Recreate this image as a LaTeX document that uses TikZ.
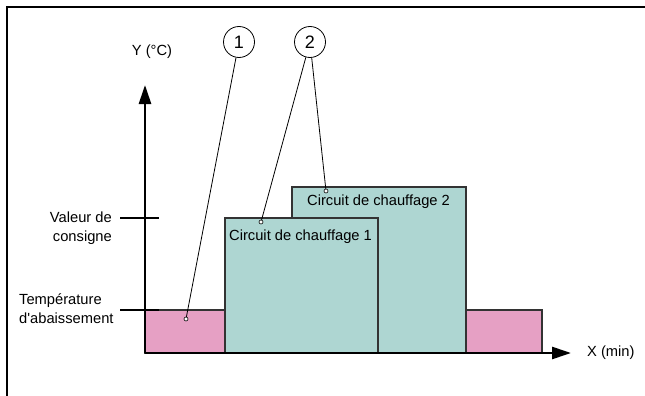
\documentclass[tikz,border=0pt]{standalone}
\usepackage{fontspec}
\setmainfont{Liberation Sans}
\usetikzlibrary{arrows.meta}

\definecolor{lowpink}{RGB}{230,160,196}
\definecolor{heatteal}{RGB}{174,214,210}

\tikzset{
  callout/.style={draw, circle, minimum size=31pt, inner sep=0pt, line width=0.8pt, font=\fontsize{18}{18}\selectfont},
  leader/.style={line width=0.8pt},
  leaderdot/.style={draw, circle, fill=white, inner sep=0pt, minimum size=4pt, line width=0.6pt},
  band/.style={draw=black!80, line width=1.1pt},
  axisline/.style={line width=2.6pt},
  axisarrow/.style={axisline, -{Triangle[length=19pt, width=12pt]}},
  plain/.style={inner sep=0pt}
}

\begin{document}
\begin{tikzpicture}[x=1pt, y=-1pt]

  \fontsize{14.7}{19}\selectfont

  \useasboundingbox (0,0) rectangle (645,396);
  \draw[line width=2.6pt] (7,396) -- (7,7) -- (645,7); %% frame

  %% bands
  \draw[band, fill=lowpink] (145,310) rectangle (225,353);
  \draw[band, fill=lowpink] (466,310) rectangle (542,353);
  \draw[band, fill=heatteal] (292,187) rectangle (466,353);
  \draw[band, fill=heatteal] (225,218) rectangle (378,353);

  \node[plain, anchor=west] (hc1) at (229,237) {Circuit de chauffage 1};
  \node[plain, anchor=west] (hc2) at (307,202) {Circuit de chauffage 2};

  %% axes
  \coordinate (o) at (145,353);
  \coordinate (ytip) at (145,85);
  \coordinate (xtip) at (571,353);
  \draw[axisarrow] (o) -- (ytip);
  \draw[axisarrow] (o) -- (xtip);
  \node[plain] (ylab) at (152,52) {Y (°C)};
  \node[plain, anchor=west] (xlab) at (587,353) {X (min)};

  %% ticks
  \coordinate (sp) at (145,218);
  \coordinate (sb) at (145,310);
  \draw[axisline] ([xshift=-25pt]sp) -- ([xshift=14pt]sp);
  \draw[axisline] ([xshift=-25pt]sb) -- ([xshift=14pt]sb);
  \node[plain, align=right, anchor=east] (setpt) at (112,228) {Valeur de\\consigne};
  \node[plain, align=left, anchor=west] (setback) at (19,309) {Température\\d\textquotesingle abaissement};

  %% callouts
  \node[callout] (c1) at (239,42) {1};
  \node[callout] (c2) at (310,42) {2};
  \coordinate (p1) at (186,319);
  \coordinate (p2a) at (261,222);
  \coordinate (p2b) at (326,191);
  \draw[leader] (c1) -- (p1);
  \draw[leader] (c2) -- (p2a);
  \draw[leader] (c2) -- (p2b);
  \node[leaderdot] (d1) at (p1) {};
  \node[leaderdot] (d2a) at (p2a) {};
  \node[leaderdot] (d2b) at (p2b) {};

\end{tikzpicture}
\end{document}
